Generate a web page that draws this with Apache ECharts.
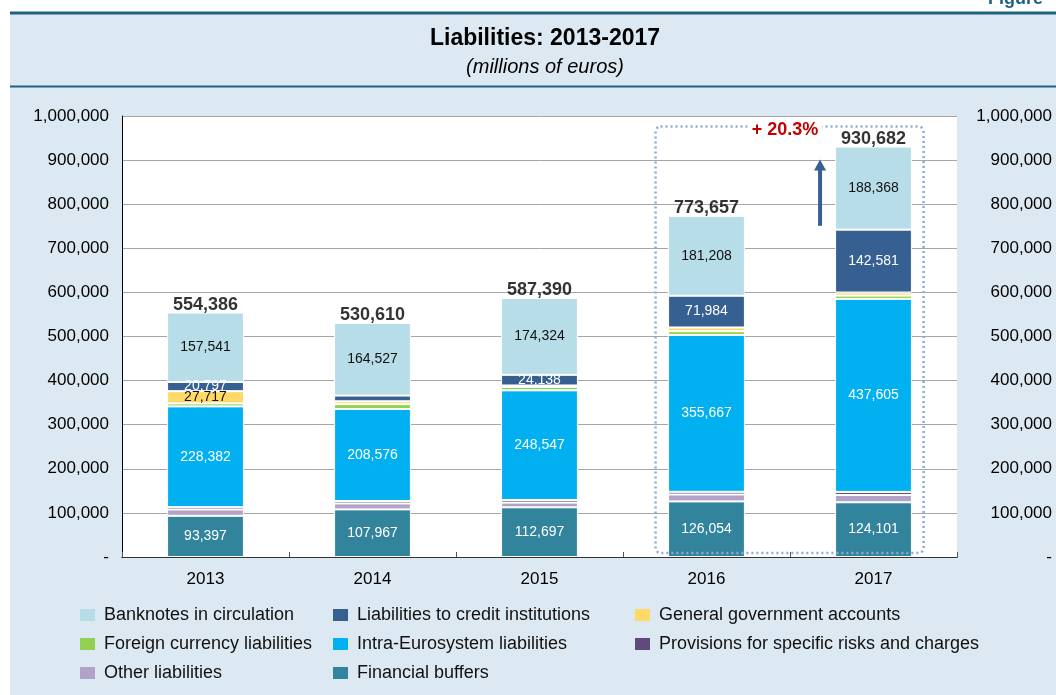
<!DOCTYPE html>
<html>
<head>
<meta charset="utf-8">
<title>Liabilities: 2013-2017</title>
<script src="https://cdn.jsdelivr.net/npm/echarts@6/dist/echarts.min.js"></script>
<style>
  html, body { margin: 0; padding: 0; background: #dde9f2; }
  #chart { width: 1056px; height: 695px; }
</style>
</head>
<body>
<div id="chart"></div>
<script>
// Balance-sheet liabilities by year (millions of euros)
const categories = ['2013', '2014', '2015', '2016', '2017'];
const banknotes          = [157541, 164527, 174324, 181208, 188368];
const creditInstitutions = [20797, 13000, 24138, 71984, 142581];
const generalGovernment  = [27717, 6500, 3500, 8500, 7000];
const foreignCurrency    = [6800, 11000, 7500, 8500, 7500];
const intraEurosystem    = [228382, 208576, 248547, 355667, 437605];
const provisions         = [5300, 5500, 6000, 6000, 7000];
const otherLiabilities   = [14452, 13540, 10684, 15744, 16527];
const financialBuffers   = [93397, 107967, 112697, 126054, 124101];
const totals             = [554386, 530610, 587390, 773657, 930682];

// which segments carry a value label
const showCreditLabel = [true, false, true, true, true];
const showGovLabel    = [true, false, false, false, false];

const FONT = '"Liberation Sans", Arial, Helvetica, sans-serif';
const fmt = v => v === 0 ? '-' : String(v).replace(/\B(?=(\d{3})+(?!\d))/g, ',');

function withLabels(values, flags) {
  return values.map((v, i) => flags[i] ? v : { value: v, label: { show: false } });
}

function stackBar(name, color, data, labelColor) {
  return {
    name: name,
    type: 'bar',
    stack: 'liab',
    barWidth: '46%',
    data: data,
    itemStyle: { color: color, borderColor: '#ffffff', borderWidth: 1 },
    label: labelColor ? {
      show: true, position: 'inside', color: labelColor,
      fontFamily: FONT, fontSize: 14,
      formatter: p => fmt(p.value)
    } : { show: false },
    emphasis: { disabled: true }
  };
}

const chart = echarts.init(document.getElementById('chart'), null, { renderer: 'canvas' });

const legendText = { fontFamily: FONT, fontSize: 18, color: '#111', lineHeight: 18, padding: [0, 0, 0, 4] };
const legendBase = {
  orient: 'vertical', top: 606, padding: 0, itemWidth: 15, itemHeight: 12, itemGap: 11,
  icon: 'rect', textStyle: legendText, selectedMode: false,
  itemStyle: { borderWidth: 0 }
};

chart.setOption({
  backgroundColor: '#dde9f2',
  animation: false,
  title: {
    text: 'Liabilities: 2013-2017',
    subtext: '(millions of euros)',
    left: 540, top: 22, textAlign: 'center', itemGap: 7,
    textStyle: { fontFamily: FONT, fontSize: 23, fontWeight: 'bold', color: '#000' },
    subtextStyle: { fontFamily: FONT, fontSize: 20, fontStyle: 'italic', color: '#000' }
  },
  grid: {
    left: 122, right: 99, top: 116, bottom: 138,
    show: true, backgroundColor: '#ffffff', borderWidth: 0
  },
  legend: [
    Object.assign({ left: 80,  data: ['Banknotes in circulation', 'Foreign currency liabilities', 'Other liabilities'] }, legendBase),
    Object.assign({ left: 333, data: ['Liabilities to credit institutions', 'Intra-Eurosystem liabilities', 'Financial buffers'] }, legendBase),
    Object.assign({ left: 635, data: ['General government accounts', 'Provisions for specific risks and charges'] }, legendBase)
  ],
  xAxis: [{
    type: 'category', data: categories, position: 'bottom',
    axisLine: { lineStyle: { color: '#000', width: 1 } },
    axisTick: { show: true, inside: true, length: 5, lineStyle: { color: '#555' } },
    axisLabel: { fontFamily: FONT, fontSize: 17, color: '#000', margin: 14 }
  }, {
    type: 'category', data: categories, position: 'top',
    axisLine: { lineStyle: { color: '#333', width: 1 } },
    axisTick: { show: false }, axisLabel: { show: false }
  }],
  yAxis: [{
    type: 'value', min: 0, max: 1000000, interval: 100000, position: 'left',
    axisLine: { show: true, lineStyle: { color: '#000', width: 1 } },
    axisTick: { show: false },
    splitLine: { lineStyle: { color: '#a6a6a6', width: 1 } },
    axisLabel: { fontFamily: FONT, fontSize: 17, color: '#000', margin: 13, formatter: fmt }
  }, {
    type: 'value', min: 0, max: 1000000, interval: 100000, position: 'right',
    axisLine: { show: false }, axisTick: { show: false }, splitLine: { show: false },
    axisLabel: { fontFamily: FONT, fontSize: 17, color: '#000', margin: 95, align: 'right', formatter: fmt }
  }],
  series: [
    stackBar('Financial buffers', '#31849b', financialBuffers, '#ffffff'),
    stackBar('Other liabilities', '#b3a2c7', otherLiabilities, null),
    stackBar('Provisions for specific risks and charges', '#604a7b', provisions, null),
    stackBar('Intra-Eurosystem liabilities', '#00b0f0', intraEurosystem, '#ffffff'),
    stackBar('Foreign currency liabilities', '#92d050', foreignCurrency, null),
    stackBar('General government accounts', '#ffd966', withLabels(generalGovernment, showGovLabel), '#111111'),
    stackBar('Liabilities to credit institutions', '#366092', withLabels(creditInstitutions, showCreditLabel), '#ffffff'),
    stackBar('Banknotes in circulation', '#b7dde8', banknotes, '#111111'),
    {
      name: 'Total', type: 'scatter', data: totals, symbolSize: 1,
      itemStyle: { color: 'rgba(0,0,0,0)' },
      label: {
        show: true, position: 'top', distance: -2,
        fontFamily: FONT, fontSize: 18, fontWeight: 'bold', color: '#000',
        formatter: p => fmt(p.value)
      },
      emphasis: { disabled: true }, silent: true, z: 5
    }
  ]
});

// Annotation: dotted frame around the last two years, growth label and arrow
const band = chart.convertToPixel({ xAxisIndex: 0 }, categories[1]) - chart.convertToPixel({ xAxisIndex: 0 }, categories[0]);
const n = categories.length;
const xPrev = chart.convertToPixel({ xAxisIndex: 0 }, categories[n - 2]);
const xLast = chart.convertToPixel({ xAxisIndex: 0 }, categories[n - 1]);
const yPrev = chart.convertToPixel({ yAxisIndex: 0 }, totals[n - 2]);
const yLast = chart.convertToPixel({ yAxisIndex: 0 }, totals[n - 1]);
const yZero = chart.convertToPixel({ yAxisIndex: 0 }, 0);
const growth = (totals[n - 1] / totals[n - 2] - 1) * 100;

const boxL = xPrev - 0.305 * band, boxR = xLast + 0.30 * band;
const boxT = yLast - 20, boxB = yZero - 4;
const arrowX = xLast - 0.32 * band;
const arrowTop = yLast + 13, arrowBottom = yPrev + 10;

chart.setOption({
  graphic: [
    // white margins round the panel
    { type: 'rect', silent: true, z: 100, shape: { x: 0, y: 0, width: 1056, height: 12 }, style: { fill: '#ffffff' } },
    { type: 'rect', silent: true, z: 100, shape: { x: 0, y: 0, width: 10, height: 695 }, style: { fill: '#ffffff' } },
    {
      type: 'text', silent: true, z: 101, left: 988, top: -10,
      style: { text: 'Figure', fill: '#1f6280', font: 'bold 18px ' + FONT }
    },
    // header rules
    { type: 'line', silent: true, z: 101, shape: { x1: 10, y1: 13, x2: 1056, y2: 13 }, style: { stroke: '#1f6280', lineWidth: 3 } },
    { type: 'line', silent: true, z: 101, shape: { x1: 10, y1: 86.5, x2: 1056, y2: 86.5 }, style: { stroke: '#1f6280', lineWidth: 2 } },
    // dotted frame
    {
      type: 'rect', silent: true, z: 50,
      shape: { x: boxL, y: boxT, width: boxR - boxL, height: boxB - boxT, r: 5 },
      style: { fill: 'none', stroke: '#8eaad8', lineWidth: 2.5, lineDash: [2, 3] }
    },
    {
      type: 'text', silent: true, z: 51,
      x: (xPrev + xLast) / 2 - 5, y: boxT + 3,
      style: {
        text: '+ ' + growth.toFixed(1) + '%', fill: '#c00000',
        font: 'bold 18px ' + FONT, align: 'center', verticalAlign: 'middle',
        backgroundColor: '#ffffff', padding: [0, 4]
      }
    },
    // growth arrow
    {
      type: 'line', silent: true, z: 51,
      shape: { x1: arrowX, y1: arrowBottom, x2: arrowX, y2: arrowTop + 8 },
      style: { stroke: '#366092', lineWidth: 4 }
    },
    {
      type: 'polygon', silent: true, z: 51,
      shape: { points: [[arrowX, arrowTop], [arrowX - 6, arrowTop + 11], [arrowX + 6, arrowTop + 11]] },
      style: { fill: '#366092' }
    }
  ]
});
</script>
</body>
</html>
